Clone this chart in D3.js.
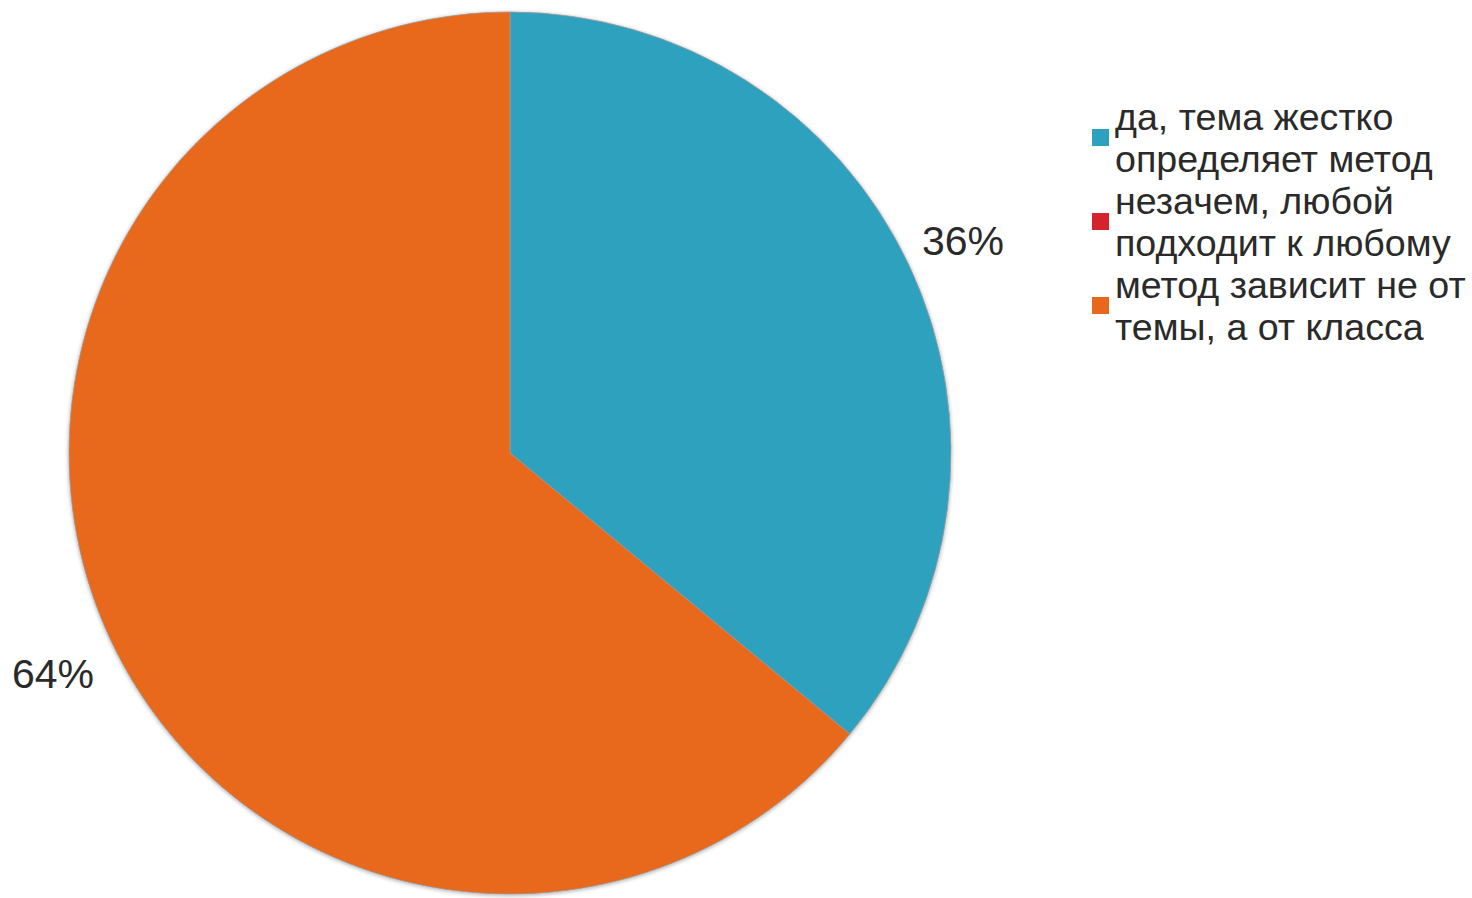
<!DOCTYPE html>
<html>
<head>
<meta charset="utf-8">
<script src="https://cdn.jsdelivr.net/npm/d3@7"></script>
<style>
  html, body { margin: 0; padding: 0; background: #fff; }
  svg { display: block; }
</style>
</head>
<body>
<svg id="chart" width="1472" height="898"></svg>
<script>
// Survey answers and their shares (percent)
const categories = [
  "да, тема жестко определяет метод",
  "незачем, любой подходит к любому",
  "метод зависит не от темы, а от класса"
];
const legendLines = [
  ["да, тема жестко", "определяет метод"],
  ["незачем, любой", "подходит к любому"],
  ["метод зависит не от", "темы, а от класса"]
];
const values = [36, 0, 64];
const colors = ["#2ea1bf", "#d5222f", "#e8671c"];

const svg = d3.select("#chart");
const cx = 510, cy = 453, radius = 441;
const font = "'Liberation Sans', Arial, sans-serif";

const defs = svg.append("defs");
const shadow = defs.append("filter").attr("id", "soft").attr("x", "-10%").attr("y", "-10%").attr("width", "120%").attr("height", "120%");
shadow.append("feGaussianBlur").attr("in", "SourceAlpha").attr("stdDeviation", 2).attr("result", "b");
shadow.append("feOffset").attr("in", "b").attr("dx", 0).attr("dy", 1).attr("result", "o");
shadow.append("feComponentTransfer").attr("in", "o").attr("result", "s")
  .append("feFuncA").attr("type", "linear").attr("slope", 0.35);
const merge = shadow.append("feMerge");
merge.append("feMergeNode").attr("in", "s");
merge.append("feMergeNode").attr("in", "SourceGraphic");

const data = categories.map((c, i) => ({ name: c, value: values[i], color: colors[i] }));

const pie = d3.pie().value(d => d.value).sort(null);
const arc = d3.arc().innerRadius(0).outerRadius(radius);
const arcs = pie(data).filter(d => d.data.value > 0);

const g = svg.append("g").attr("transform", `translate(${cx},${cy})`).attr("filter", "url(#soft)");
g.selectAll("path")
  .data(arcs)
  .join("path")
  .attr("d", arc)
  .attr("fill", d => d.data.color)
  .attr("stroke", "#9a9a9a")
  .attr("stroke-width", 0.8);

// Percent labels beside the rim: right half labels start right of the pie, left half labels sit at the far left
const fmt = d3.format(".0%");
const total = d3.sum(values);
svg.append("g").attr("transform", `translate(${cx},${cy})`)
  .selectAll("text")
  .data(arcs)
  .join("text")
  .attr("x", d => {
    const a = (d.startAngle + d.endAngle) / 2;
    return a < Math.PI ? 412 : -498;
  })
  .attr("y", d => {
    const a = (d.startAngle + d.endAngle) / 2;
    return a < Math.PI ? -198 : 235;
  })
  .attr("font-family", font)
  .attr("font-size", 41)
  .attr("fill", "#2a2a2a")
  .text(d => fmt(d.data.value / total));

// Legend
const legend = svg.append("g").attr("transform", "translate(1092,0)");
const entryTop = [130, 214, 298];
const lineH = 42;
const item = legend.selectAll("g.item")
  .data(data)
  .join("g")
  .attr("class", "item")
  .attr("transform", (d, i) => `translate(0,${entryTop[i]})`);
item.append("rect")
  .attr("x", 0).attr("y", -1)
  .attr("width", 17).attr("height", 17)
  .attr("fill", d => d.color);
item.append("text")
  .attr("font-family", font)
  .attr("font-size", 37.6)
  .attr("fill", "#2a2a2a")
  .selectAll("tspan")
  .data((d, i) => legendLines[i])
  .join("tspan")
  .attr("x", 23)
  .attr("y", (l, j) => j * lineH)
  .text(l => l);
</script>
</body>
</html>
